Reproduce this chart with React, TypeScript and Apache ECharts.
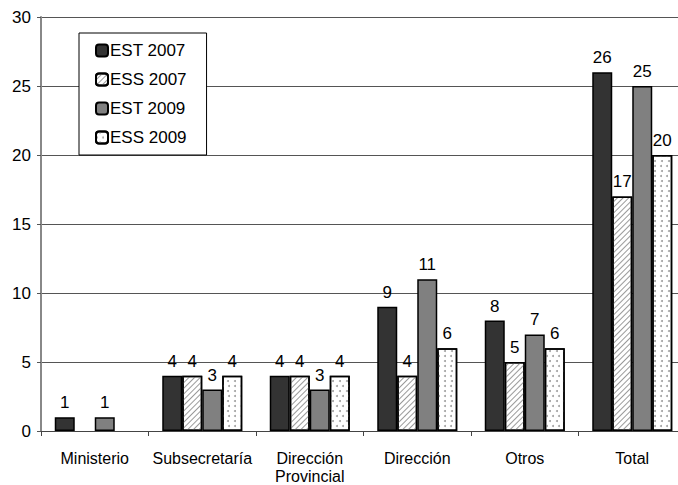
import React, { useEffect, useRef } from "react";
import * as echarts from "echarts";

const categories = ["Ministerio", "Subsecretaría", "Dirección\nProvincial", "Dirección", "Otros", "Total"];
const seriesNames = ["EST 2007", "ESS 2007", "EST 2009", "ESS 2009"];
const est2007 = [1, 4, 4, 9, 8, 26];
const ess2007 = [0, 4, 4, 4, 5, 17];
const est2009 = [1, 3, 3, 11, 7, 25];
const ess2009 = [0, 4, 4, 6, 6, 20];
const yTicks = { min: 0, max: 30, interval: 5 };

const FONT = "'Liberation Sans', Arial, sans-serif";

export default function App() {
  const ref = useRef<HTMLDivElement>(null);
  useEffect(() => {
    if (!ref.current) return;
    const chart = echarts.init(ref.current, undefined, { renderer: "svg" });
    const label = {
      show: true,
      position: "top" as const,
      distance: 6,
      fontSize: 17,
      color: "#000",
      fontFamily: FONT,
      formatter: (p: any) => (p.value ? String(p.value) : ""),
    };
    const border = { borderColor: "#000", borderWidth: 1.5 };
    const styles = [
      { color: "#333333", ...border },
      {
        color: "#ffffff",
        ...border,
        decal: {
          symbol: "rect",
          symbolSize: 1,
          color: "#9a9a9a",
          dashArrayX: [1, 0],
          dashArrayY: [1, 2.6],
          rotation: -Math.PI / 4,
        },
      },
      { color: "#808080", ...border },
      {
        color: "#ffffff",
        ...border,
        decal: {
          symbol: "circle",
          symbolSize: 1,
          color: "#a0a0a0",
          dashArrayX: [[1.2, 4], [0, 2.6, 1.2, 1.4]],
          dashArrayY: [1.2, 2.5],
        },
      },
    ];
    const datas = [est2007, ess2007, est2009, ess2009];
    chart.setOption({
      animation: false,
      aria: { enabled: false },
      textStyle: { fontFamily: FONT },
      grid: { left: 41, right: 4, top: 17, bottom: 53 },
      legend: {
        orient: "vertical",
        left: 79,
        top: 33,
        data: seriesNames,
        itemWidth: 12,
        itemHeight: 12,
        itemGap: 12,
        padding: [9, 20, 9, 16],
        borderColor: "#000",
        borderWidth: 1,
        backgroundColor: "#fff",
        textStyle: { fontSize: 17, color: "#000", fontFamily: FONT, padding: [0, 0, 0, -3] },
      },
      xAxis: {
        type: "category",
        data: categories,
        axisLine: { lineStyle: { color: "#444", width: 1 } },
        axisTick: { show: true, length: 5, lineStyle: { color: "#444" } },
        axisLabel: { fontSize: 16, color: "#000", fontFamily: FONT, margin: 18, lineHeight: 18, interval: 0 },
      },
      yAxis: {
        type: "value",
        ...yTicks,
        axisLine: { show: true, lineStyle: { color: "#888", width: 2 } },
        axisTick: { show: true, length: 4, lineStyle: { color: "#555" } },
        axisLabel: { fontSize: 17, color: "#000", fontFamily: FONT, margin: 10 },
        splitLine: { show: true, lineStyle: { color: "#555", width: 1 } },
      },
      series: seriesNames.map((name, i) => ({
        name,
        type: "bar",
        data: datas[i].map((v) => (v === 0 ? { value: v, itemStyle: { borderWidth: 0, opacity: 0 } } : v)),
        barWidth: 20,
        barGap: "0%",
        itemStyle: styles[i],
        label,
      })),
    });
    return () => chart.dispose();
  }, []);
  return (
    <div
      style={{ position: "fixed", left: 0, top: 0, width: 678, height: 485, overflow: "hidden", background: "#fff" }}
    >
      <div ref={ref} style={{ width: 690, height: 485 }} />
    </div>
  );
}
